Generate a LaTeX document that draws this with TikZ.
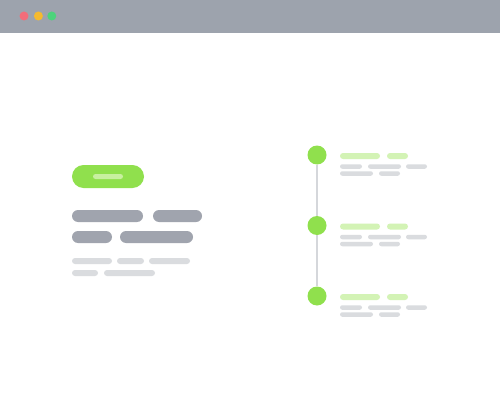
\documentclass[tikz,border=0pt]{standalone}
\usepackage{tikz}
\usetikzlibrary{positioning}
\usepackage{xcolor}

\definecolor{chrome}{HTML}{9DA3AD}
\definecolor{winred}{HTML}{F26D7A}
\definecolor{winyellow}{HTML}{F5BA2E}
\definecolor{wingreen}{HTML}{4DD37B}
\definecolor{lime}{HTML}{90E04D}
\definecolor{limelight}{HTML}{D3F3B5}
\definecolor{limeinner}{HTML}{C8F0A0}
\definecolor{slate}{HTML}{A0A4AE}
\definecolor{mist}{HTML}{DADCDF}
\definecolor{railgray}{HTML}{D5D7DB}

\begin{document}
\begin{tikzpicture}[x=1pt,y=-1pt,
    bar/.style={inner sep=0pt, outer sep=0pt, anchor=west,
        minimum height=#1, rounded corners=#1/2},
    thick bar/.style={bar=12pt, fill=slate},
    thin bar/.style={bar=6pt, fill=mist},
    tiny bar/.style={bar=4.5pt, fill=mist},
    lime bar/.style={bar=6pt, fill=limelight},
    winbtn/.style={circle, inner sep=0pt, minimum size=9pt},
    stop/.style={circle, fill=lime, inner sep=0pt, minimum size=19pt}]

    % page and window chrome
    \fill[white] (0,0) rectangle (500,417);
    \useasboundingbox (0,0) rectangle (500,417);
    \fill[chrome] (0,0) rectangle (500,33);
    \node[winbtn, fill=winred] (dotr) at (24,16) {};
    \node[winbtn, fill=winyellow, right=5pt of dotr] (doty) {};
    \node[winbtn, fill=wingreen, right=4pt of doty] (dotg) {};

    % left column
    \node[bar=23pt, fill=lime, minimum width=72pt] (btn) at (72,176.5) {};
    \node[inner sep=0pt, fill=limeinner, minimum width=30pt, minimum height=5pt,
        rounded corners=2.5pt] (btnlabel) at (btn.center) {};

    \node[thick bar, minimum width=71pt] (ha) at (72,216) {};
    \node[thick bar, minimum width=49pt] (hb) at (153,216) {};
    \node[thick bar, minimum width=40pt] (hc) at (72,237) {};
    \node[thick bar, minimum width=73pt] (hd) at (120,237) {};

    \node[thin bar, minimum width=40pt] (ta) at (72,261) {};
    \node[thin bar, minimum width=27pt] (tb) at (117,261) {};
    \node[thin bar, minimum width=41pt] (tc) at (149,261) {};
    \node[thin bar, minimum width=26pt] (td) at (72,273) {};
    \node[thin bar, minimum width=51pt] (te) at (104,273) {};

    % timeline
    \foreach \i/\y in {1/155, 2/225.5, 3/296} {
        \node[stop] (stop\i) at (317,\y) {};
        \node[lime bar, minimum width=40pt] (title\i) at (340,\y+1) {};
        \node[lime bar, minimum width=21pt] (tag\i) at (387,\y+1) {};
        \node[tiny bar, minimum width=22pt] (la\i) at (340,\y+11.5) {};
        \node[tiny bar, minimum width=33pt] (lb\i) at (368,\y+11.5) {};
        \node[tiny bar, minimum width=21pt] (lc\i) at (406,\y+11.5) {};
        \node[tiny bar, minimum width=33pt] (ld\i) at (340,\y+18.5) {};
        \node[tiny bar, minimum width=21pt] (le\i) at (379,\y+18.5) {};
    }
    \draw[railgray, line width=1.5pt] (stop1) -- (stop2);
    \draw[railgray, line width=1.5pt] (stop2) -- (stop3);

\end{tikzpicture}
\end{document}
